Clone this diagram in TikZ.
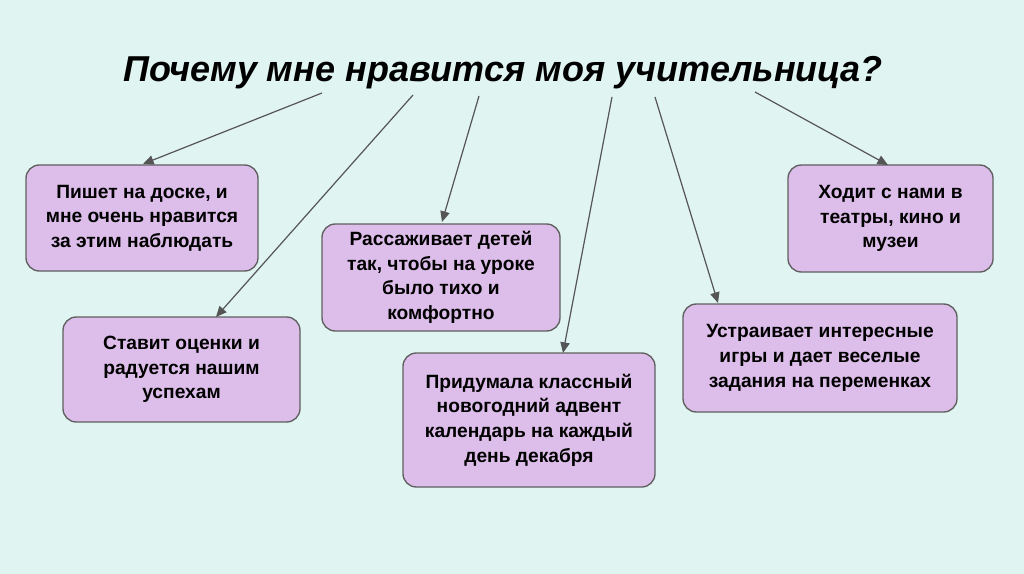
\documentclass[tikz,border=0pt]{standalone}
\usepackage{fontspec}
\setmainfont{Liberation Sans}
\usetikzlibrary{arrows.meta}
\definecolor{bgc}{HTML}{E0F4F1}
\definecolor{boxfill}{HTML}{DDBDE9}
\definecolor{boxline}{HTML}{5F5F5F}
\definecolor{arrc}{HTML}{555555}
\tikzset{
  idea/.style={draw=boxline, line width=1pt, fill=boxfill, rounded corners=10pt,
    align=center, font=\fontsize{14.4}{18.5}\selectfont\bfseries, text=black, inner sep=0pt},
  link/.style={draw=arrc, line width=0.9pt, -{Triangle[length=8pt,width=7pt]}}
}
\begin{document}
\begin{tikzpicture}[x=0.75pt,y=-0.75pt]
\fill[bgc] (0,0) rectangle (1024,574);
\useasboundingbox (0,0) rectangle (1024,574);
\node[font=\fontsize{27}{32}\selectfont\bfseries\itshape] (title) at (503,73) {Почему мне нравится моя учительница?};

\node[idea, minimum width=232*0.75pt, minimum height=106*0.75pt] (b1) at (142,218)
  {Пишет на доске, и\\мне очень нравится\\за этим наблюдать};
\node[idea, minimum width=237*0.75pt, minimum height=105*0.75pt] (b2) at (181.5,369.5)
  {Ставит оценки и\\радуется нашим\\успехам};
\node[idea, minimum width=238*0.75pt, minimum height=107*0.75pt] (b3) at (441,277.5)
  {Рассаживает детей\\так, чтобы на уроке\\было тихо и\\комфортно};
\node[idea, minimum width=252*0.75pt, minimum height=134*0.75pt] (b4) at (529,420)
  {Придумала классный\\новогодний адвент\\календарь на каждый\\день декабря};
\node[idea, minimum width=205*0.75pt, minimum height=107*0.75pt] (b5) at (890.5,218.5)
  {Ходит с нами в\\театры, кино и\\музеи};
\node[idea, minimum width=274*0.75pt, minimum height=108*0.75pt] (b6) at (820,358)
  {Устраивает интересные\\игры и дает веселые\\задания на переменках};

\coordinate (s1) at (322,93);
\coordinate (s2) at (413,95);
\coordinate (s3) at (479,96);
\coordinate (s4) at (612,97);
\coordinate (s6) at (655,97);
\coordinate (s5) at (755,92);
\coordinate (e1) at (143,164);
\coordinate (e2) at (216,317);
\coordinate (e3) at (442,222);
\coordinate (e4) at (563,353);
\coordinate (e6) at (718,303);
\coordinate (e5) at (888,165);

\draw[link] (s1) -- (e1);
\draw[link] (s2) -- (e2);
\draw[link] (s3) -- (e3);
\draw[link] (s4) -- (e4);
\draw[link] (s6) -- (e6);
\draw[link] (s5) -- (e5);
\end{tikzpicture}
\end{document}
